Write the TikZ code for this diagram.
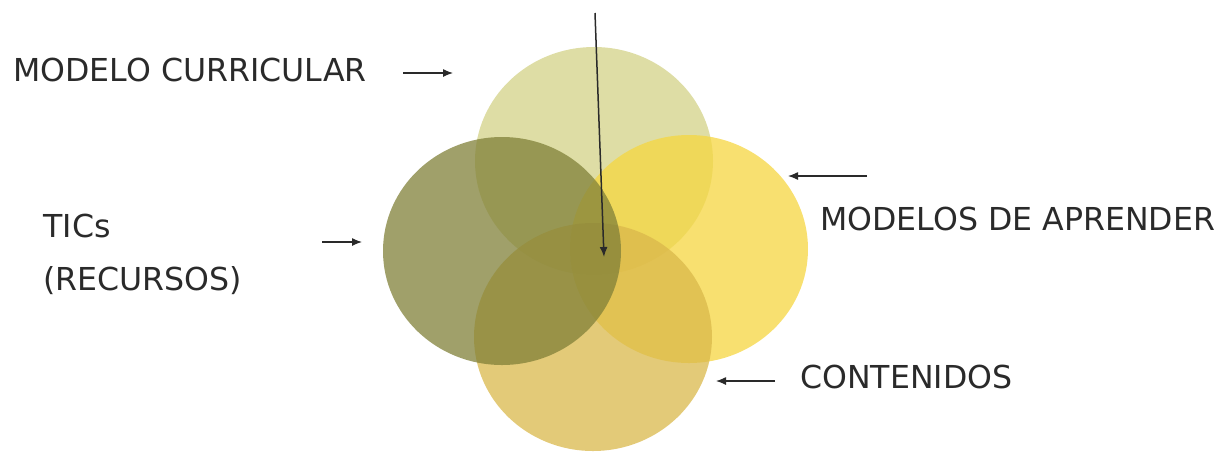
\documentclass[tikz,border=0pt]{standalone}
\usepackage{fontspec}
\setmainfont{DejaVu Sans}
\usepackage{xcolor}
\usepackage{tikz}
\usetikzlibrary{arrows.meta, shapes.geometric}
\definecolor{sKhaki}{RGB}{211,210,135}
\definecolor{sOlive}{RGB}{128,128,56}
\definecolor{sYellow}{RGB}{246,214,64}
\definecolor{sSand}{RGB}{218,184,75}
\definecolor{sInk}{HTML}{2A2A2A}
\tikzset{
  blob/.style={ellipse, inner sep=0pt, minimum width=119pt, minimum height=114pt, fill opacity=0.75},
  lbl/.style={anchor=base west, inner sep=0pt, text=sInk, font=\fontsize{15.8}{19}\selectfont},
  ptr/.style={draw=sInk, line width=0.6pt, -{Latex[length=5pt,width=4pt]}}
}

\begin{document}
\begin{tikzpicture}[x=0.5pt, y=-0.5pt]
  \useasboundingbox (0,0) rectangle (1217,452);
  % the four circles
  \node[blob, fill=sKhaki] (curr) at (594,161) {};
  \node[blob, fill=sYellow] (apr) at (689,249) {};
  \node[blob, fill=sSand] (cont) at (593,337) {};
  \node[blob, fill=sOlive] (tic) at (502,251) {};
  % labels
  \node[lbl] (currlbl) at (13,81) {MODELO CURRICULAR};
  \node[lbl] (ticlbl) at (43,237) {TICs};
  \node[lbl] (reclbl) at (43,290) {(RECURSOS)};
  \node[lbl] (aprlbl) at (820,230) {MODELOS DE APRENDER};
  \node[lbl] (contlbl) at (800,388) {CONTENIDOS};
  % pointers
  \coordinate (currfrom) at (403,73);
  \coordinate (currto) at (453,73);
  \coordinate (ticfrom) at (322,242);
  \coordinate (ticto) at (362,242);
  \coordinate (aprfrom) at (867,176);
  \coordinate (aprto) at (788,176);
  \coordinate (contfrom) at (775,381);
  \coordinate (contto) at (716,381);
  \coordinate (topfrom) at (595,13);
  \coordinate (core) at (604,257);
  \draw[ptr] (currfrom) -- (currto);
  \draw[ptr] (ticfrom) -- (ticto);
  \draw[ptr] (aprfrom) -- (aprto);
  \draw[ptr] (contfrom) -- (contto);
  \draw[ptr, line width=0.75pt] (topfrom) -- (core);
\end{tikzpicture}
\end{document}
